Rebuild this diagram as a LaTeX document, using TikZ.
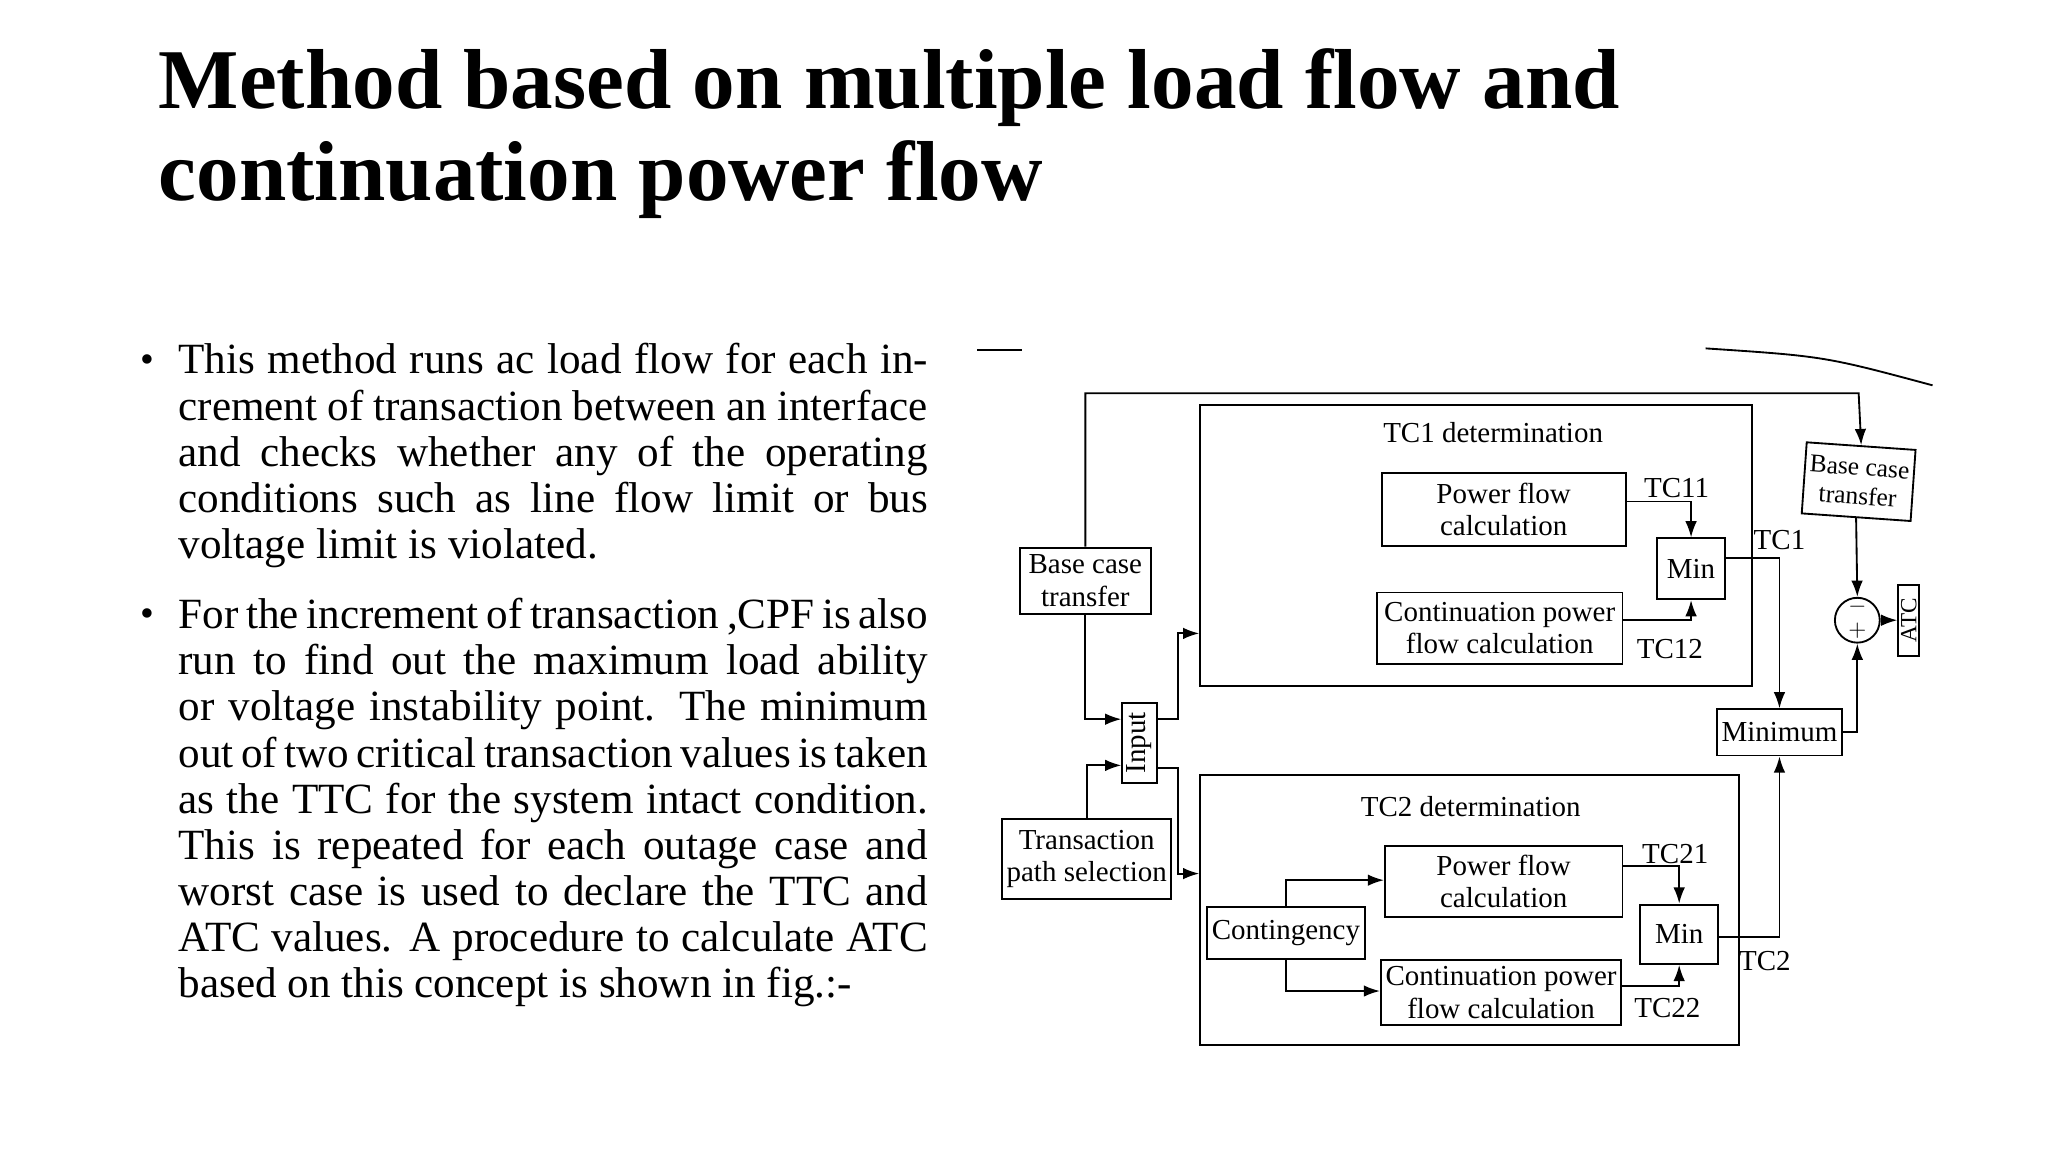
\documentclass[tikz,border=0pt]{standalone}
\usepackage{fontspec}
\setmainfont{Liberation Serif}
\usetikzlibrary{arrows.meta}
\newcommand\nohyph{\hyphenpenalty=10000 \exhyphenpenalty=10000 \tolerance=9999 \emergencystretch=2cm }
\begin{document}
\begin{tikzpicture}[x=0.02cm,y=-0.02cm,
  box/.style={draw,thick,inner sep=2pt,align=center,font=\fontsize{12.5}{14}\selectfont},
  lbl/.style={font=\fontsize{12.5}{14}\selectfont,inner sep=1pt},
  frame/.style={draw,thick},
  arr/.style={thick,-{Latex[length=7pt,width=5pt]}},
  body/.style={anchor=north west,inner sep=0pt,text width=11.36cm,align=justify,font=\fontsize{18.6}{19.9}\selectfont}]
\useasboundingbox (0,0) rectangle (1552,873);
% title
\node[anchor=base west,inner sep=0pt,font=\fontsize{36.7}{40}\bfseries] (t1) at (120,82) {Method based on multiple load flow and};
\node[anchor=base west,inner sep=0pt,font=\fontsize{36.7}{40}\bfseries] (t2) at (120,152) {continuation power flow};
% bullets
\node[anchor=base,inner sep=0pt,font=\fontsize{17}{19.9}\selectfont] (b1) at (112,282) {\textbullet};
\node[body] (p1) at (135,260) {\nohyph This method runs ac load flow for each increment of transaction between an interface and checks whether any of the operating conditions such as line flow limit or bus voltage limit is violated.};
\node[anchor=base,inner sep=0pt,font=\fontsize{17}{19.9}\selectfont] (b2) at (112,475) {\textbullet};
\node[body] (p2) at (135,453) {\nohyph For the increment of transaction ,CPF is also run to find out the maximum load ability or voltage instability point. The minimum out of two critical transaction values is taken as the TTC for the system intact condition. This is repeated for each outage case and worst case is used to declare the TTC and ATC values. A procedure to calculate ATC based on this concept is shown in fig.:-};
\begin{scope}[xshift=-0.15cm]
% page edge lines
\draw[thick] (748,265) -- (782,265);
\draw[thick] (1300,264) .. controls (1390,270) .. (1472,292);
% frames
\node[frame,minimum width=418*0.02cm,minimum height=213*0.02cm] (f1) at (1126,413.5) {};
\node[frame,minimum width=408*0.02cm,minimum height=205*0.02cm] (f2) at (1121,689.5) {};
\node[lbl] (h1) at (1139,328) {TC1 determination};
\node[lbl] (h2) at (1122,611) {TC2 determination};
% blocks
\node[box,minimum width=99*0.02cm,minimum height=50*0.02cm] (bl) at (830,440) {Base case\\transfer};
\node[box,minimum width=128*0.02cm,minimum height=61*0.02cm] (tp) at (831,651) {Transaction\\path selection};
\node[box,rotate=90,minimum width=61*0.02cm,minimum height=26*0.02cm] (in) at (871,563) {Input};
\node[box,minimum width=185*0.02cm,minimum height=55*0.02cm] (pf1) at (1147,386) {Power flow\\calculation};
\node[box,minimum width=186*0.02cm,minimum height=54*0.02cm] (cp1) at (1144,476) {Continuation power\\flow calculation};
\node[box,minimum width=52*0.02cm,minimum height=46*0.02cm] (m1) at (1289,431) {Min};
\node[box,minimum width=180*0.02cm,minimum height=54*0.02cm] (pf2) at (1147,668) {Power flow\\calculation};
\node[box,minimum width=180*0.02cm,minimum height=49*0.02cm] (cp2) at (1145,752) {Continuation power\\flow calculation};
\node[box,minimum width=113*0.02cm,minimum height=39*0.02cm] (ct) at (982,707) {Contingency};
\node[box,minimum width=59*0.02cm,minimum height=45*0.02cm] (m2) at (1280,708) {Min};
\node[box,minimum width=81*0.02cm,minimum height=35*0.02cm] (mn) at (1356,555) {Minimum};
\node[box,rotate=-4,minimum width=68*0.02cm,minimum height=54*0.02cm,font=\fontsize{11}{12.5}\selectfont] (br) at (1416,365) {Base case\\transfer};
\node[draw,thick,circle,minimum size=34*0.02cm,inner sep=0pt] (sum) at (1415,470) {};
\node[lbl,font=\fontsize{10}{10}\selectfont] (mi) at (1415,460) {$-$};
\node[lbl,font=\fontsize{10}{10}\selectfont] (pl) at (1415,478) {$+$};
\node[box,rotate=90,minimum width=54*0.02cm,minimum height=16*0.02cm,inner sep=1pt,font=\fontsize{10}{11}\selectfont] (atc) at (1454,470) {ATC};
% labels
\node[lbl] (l11) at (1278,370) {TC11};
\node[lbl] (l12) at (1273,492) {TC12};
\node[lbl] (l1) at (1356,409) {TC1};
\node[lbl] (l21) at (1277,647) {TC21};
\node[lbl] (l22) at (1271,764) {TC22};
\node[lbl] (l2) at (1345,728) {TC2};
% connectors
\draw[arr] (bl.north) |- (1416,298) -- (br.north);
\draw[arr] (bl.south) |- (in.north |- 0,545);
\draw[arr] (tp.north) |- (in.north |- 0,580);
\draw[arr] (in.south |- 0,545) -| (900,480) -- (f1.west |- 0,480);
\draw[arr] (in.south |- 0,582) -| (900,662) -- (f2.west |- 0,662);
\draw[arr] (pf1.east |- 0,380) -| (m1.north);
\draw[arr] (cp1.east |- 0,470) -| (m1.south);
\draw[arr] (m1.east |- 0,423) -| (mn.north);
\draw[arr] (m2.east |- 0,710) -| (mn.south);
\draw[arr] (mn.east) -| (sum.south);
\draw[arr] (br.south) -- (sum.north);
\draw[arr] (sum.east) -- (atc.north);
\draw[arr] (ct.north) |- (pf2.west |- 0,667);
\draw[arr] (ct.south) |- (cp2.west |- 0,751);
\draw[arr] (pf2.east |- 0,656) -| (m2.north);
\draw[arr] (cp2.east |- 0,747) -| (m2.south);
\end{scope}
\end{tikzpicture}
\end{document}
